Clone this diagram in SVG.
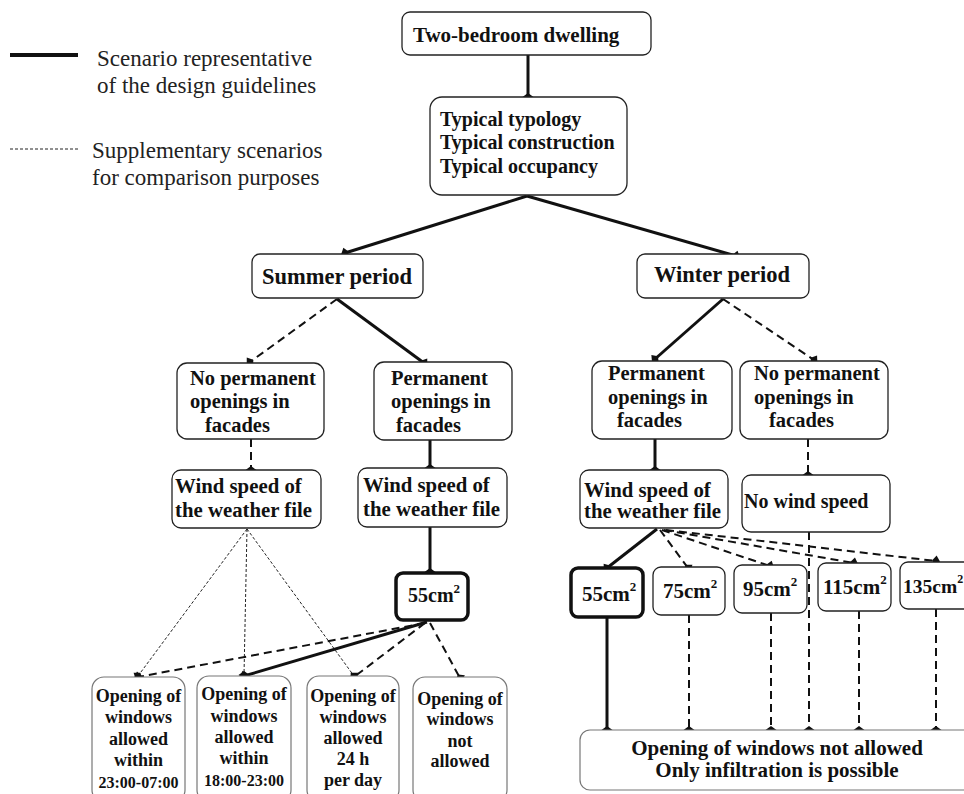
<svg xmlns="http://www.w3.org/2000/svg" width="964" height="794" viewBox="0 0 964 794">
<defs>
<style>
.box{fill:#fff;stroke:#222;stroke-width:1.3}
.thick{fill:#fff;stroke:#111;stroke-width:3.5}
.grey{fill:#fff;stroke:#777;stroke-width:1.2}
.b{font-family:"Liberation Serif","Times New Roman",serif;font-weight:bold;fill:#111}
.r{font-family:"Liberation Serif","Times New Roman",serif;fill:#222;font-size:23px}
.s{stroke:#111;stroke-width:3;fill:none}
.d{stroke:#111;stroke-width:2;stroke-dasharray:8 5;fill:none}
.t{stroke:#222;stroke-width:1;stroke-dasharray:3 2;fill:none}
.m{marker-end:url(#dia)}
</style>
<marker id="dia" markerUnits="userSpaceOnUse" markerWidth="14" markerHeight="14" viewBox="-7 -7 14 14" refX="0" refY="0" orient="auto">
<path d="M-4,0 L0,-5.5 L4,0 L0,5.5 z" fill="#111"/>
</marker>
</defs>
<rect width="964" height="794" fill="#fff"/>

<g id="legend">
<line x1="10" y1="55" x2="78" y2="55" stroke="#111" stroke-width="4"/>
<text class="r" x="97" y="66">Scenario representative</text>
<text class="r" x="97" y="93">of the design guidelines</text>
<line x1="10" y1="149" x2="78" y2="149" stroke="#222" stroke-width="1" stroke-dasharray="3 2"/>
<text class="r" x="92" y="158">Supplementary scenarios</text>
<text class="r" x="92" y="185">for comparison purposes</text>
</g>

<g id="connectors">
<line class="s m" x1="528" y1="55" x2="528" y2="97"/>
<line class="s m" x1="527" y1="196" x2="345" y2="253"/>
<line class="s m" x1="527" y1="196" x2="736" y2="256"/>
<line class="d m" x1="337" y1="299" x2="250" y2="362"/>
<line class="s m" x1="337" y1="299" x2="424" y2="363"/>
<line class="s m" x1="723" y1="299" x2="655" y2="359"/>
<line class="d m" x1="723" y1="299" x2="814" y2="360"/>
<line class="d m" x1="251" y1="439" x2="251" y2="470"/>
<line class="s m" x1="430" y1="440" x2="430" y2="468"/>
<line class="s m" x1="655" y1="439" x2="655" y2="470"/>
<line class="d m" x1="808" y1="439" x2="808" y2="475"/>
<line class="s m" x1="430" y1="527" x2="430" y2="572"/>
<line class="t m" x1="247" y1="529" x2="138" y2="676"/>
<line class="t m" x1="247" y1="529" x2="244" y2="675"/>
<line class="t m" x1="247" y1="529" x2="354" y2="676"/>
<line class="d m" x1="425" y1="623" x2="138" y2="677"/>
<line class="s m" x1="427" y1="622" x2="244" y2="676"/>
<line class="d m" x1="425" y1="623" x2="354" y2="677"/>
<line class="d m" x1="430" y1="623" x2="460" y2="678"/>
<line class="s m" x1="657" y1="529" x2="607" y2="568"/>
<line class="d m" x1="660" y1="530" x2="688" y2="568"/>
<line class="d m" x1="662" y1="530" x2="770" y2="566"/>
<line class="d m" x1="664" y1="530" x2="854" y2="563"/>
<line class="d m" x1="666" y1="530" x2="936" y2="561"/>
<line class="s m" x1="607" y1="617" x2="607" y2="730"/>
<line class="d m" x1="689" y1="615" x2="689" y2="730"/>
<line class="d m" x1="771" y1="613" x2="771" y2="730"/>
<line class="d m" x1="809" y1="532" x2="809" y2="730"/>
<line class="d m" x1="859" y1="611" x2="859" y2="730"/>
<line class="d m" x1="936" y1="609" x2="936" y2="730"/>
</g>

<g id="dwelling">
<rect class="box" x="402" y="12" width="249" height="43" rx="8"/>
<text class="b" x="413" y="42" font-size="21">Two-bedroom dwelling</text>
</g>
<g id="typical">
<rect class="box" x="430" y="97" width="197" height="98" rx="12"/>
<text class="b" x="440" y="126" font-size="20">Typical typology</text>
<text class="b" x="440" y="149" font-size="20">Typical construction</text>
<text class="b" x="440" y="173" font-size="20">Typical occupancy</text>
</g>
<g id="summer">
<rect class="box" x="252" y="254" width="171" height="44" rx="8"/>
<text class="b" x="337" y="284" font-size="22.5" text-anchor="middle">Summer period</text>
</g>
<g id="winter">
<rect class="box" x="637" y="254" width="172" height="44" rx="8"/>
<text class="b" x="722" y="282" font-size="22.5" text-anchor="middle">Winter period</text>
</g>
<g id="s-noperm">
<rect class="box" x="177" y="363" width="147" height="76" rx="10"/>
<text class="b" x="190" y="385" font-size="20.5">No permanent</text>
<text class="b" x="190" y="408" font-size="20.5">openings in</text>
<text class="b" x="205" y="432" font-size="20.5">facades</text>
</g>
<g id="s-perm">
<rect class="box" x="374" y="362" width="138" height="78" rx="10"/>
<text class="b" x="391" y="385" font-size="20.5">Permanent</text>
<text class="b" x="391" y="408" font-size="20.5">openings in</text>
<text class="b" x="396" y="432" font-size="20.5">facades</text>
</g>
<g id="w-perm">
<rect class="box" x="592" y="361" width="140" height="78" rx="10"/>
<text class="b" x="608" y="380" font-size="20.5">Permanent</text>
<text class="b" x="608" y="404" font-size="20.5">openings in</text>
<text class="b" x="617" y="427" font-size="20.5">facades</text>
</g>
<g id="w-noperm">
<rect class="box" x="740" y="361" width="148" height="78" rx="10"/>
<text class="b" x="754" y="380" font-size="20.5">No permanent</text>
<text class="b" x="754" y="404" font-size="20.5">openings in</text>
<text class="b" x="769" y="427" font-size="20.5">facades</text>
</g>
<g id="s-wind1">
<rect class="box" x="172" y="470" width="149" height="58" rx="9"/>
<text class="b" x="175" y="493" font-size="20.8">Wind speed of</text>
<text class="b" x="175" y="517" font-size="20.8">the weather file</text>
</g>
<g id="s-wind2">
<rect class="box" x="358" y="468" width="149" height="59" rx="9"/>
<text class="b" x="363" y="492" font-size="20.8">Wind speed of</text>
<text class="b" x="363" y="516" font-size="20.8">the weather file</text>
</g>
<g id="w-wind">
<rect class="box" x="580" y="470" width="148" height="58" rx="9"/>
<text class="b" x="584" y="497" font-size="20.8">Wind speed of</text>
<text class="b" x="584" y="518" font-size="20.8">the weather file</text>
</g>
<g id="w-nowind">
<rect class="box" x="742" y="475" width="148" height="57" rx="9"/>
<text class="b" x="744" y="508" font-size="20">No wind speed</text>
</g>
<g id="s-55">
<rect class="thick" x="396" y="573" width="72" height="47" rx="7"/>
<text class="b" x="408" y="602" font-size="20">55cm<tspan dy="-9" font-size="13">2</tspan></text>
</g>
<g id="w-55">
<rect class="thick" x="571" y="568" width="72" height="49" rx="7"/>
<text class="b" x="582" y="601" font-size="21">55cm<tspan dy="-10" font-size="13">2</tspan></text>
</g>
<g id="w-75">
<rect class="box" x="653" y="567" width="72" height="48" rx="8"/>
<text class="b" x="663" y="598" font-size="21">75cm<tspan dy="-10" font-size="13">2</tspan></text>
</g>
<g id="w-95">
<rect class="box" x="734" y="565" width="73" height="48" rx="8"/>
<text class="b" x="743" y="596" font-size="21">95cm<tspan dy="-10" font-size="13">2</tspan></text>
</g>
<g id="w-115">
<rect class="box" x="818" y="563" width="73" height="48" rx="8"/>
<text class="b" x="823" y="594" font-size="21">115cm<tspan dy="-10" font-size="13">2</tspan></text>
</g>
<g id="w-135">
<rect class="box" x="900" y="562" width="75" height="47" rx="8"/>
<text class="b" x="903" y="593" font-size="19.5">135cm<tspan dy="-10" font-size="12">2</tspan></text>
</g>
<g id="w-bottom">
<rect class="grey" x="580" y="730" width="400" height="60" rx="10"/>
<text class="b" x="777" y="755" font-size="21" text-anchor="middle">Opening of windows not allowed</text>
<text class="b" x="777" y="777" font-size="21" text-anchor="middle">Only infiltration is possible</text>
</g>
<g id="open-a">
<rect class="grey" x="92" y="677" width="93" height="125" rx="12"/>
<text class="b" font-size="18" text-anchor="middle"><tspan x="138.5" y="702">Opening of</tspan><tspan x="138.5" y="723">windows</tspan><tspan x="138.5" y="745">allowed</tspan><tspan x="138.5" y="766">within</tspan><tspan x="138.5" y="788" font-size="16">23:00-07:00</tspan></text>
</g>
<g id="open-b">
<rect class="grey" x="197" y="676" width="94" height="126" rx="12"/>
<text class="b" font-size="18" text-anchor="middle"><tspan x="244" y="700">Opening of</tspan><tspan x="244" y="722">windows</tspan><tspan x="244" y="743">allowed</tspan><tspan x="244" y="764">within</tspan><tspan x="244" y="786" font-size="16">18:00-23:00</tspan></text>
</g>
<g id="open-c">
<rect class="grey" x="307" y="676" width="92" height="126" rx="12"/>
<text class="b" font-size="18" text-anchor="middle"><tspan x="353" y="702">Opening of</tspan><tspan x="353" y="723">windows</tspan><tspan x="353" y="744">allowed</tspan><tspan x="353" y="765">24 h</tspan><tspan x="353" y="786">per day</tspan></text>
</g>
<g id="open-d">
<rect class="grey" x="413" y="677" width="94" height="125" rx="12"/>
<text class="b" font-size="18" text-anchor="middle"><tspan x="460" y="705">Opening of</tspan><tspan x="460" y="725">windows</tspan><tspan x="460" y="747">not</tspan><tspan x="460" y="767">allowed</tspan></text>
</g>
</svg>
